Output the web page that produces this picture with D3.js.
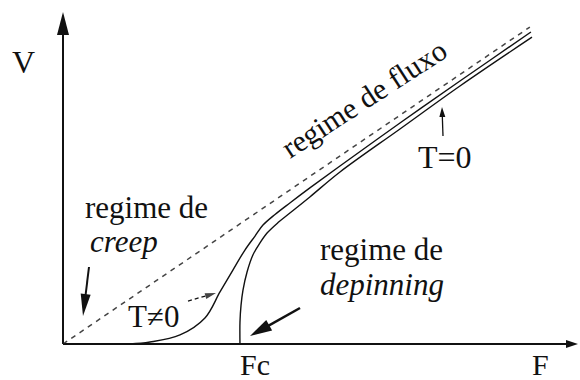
<!DOCTYPE html>
<html>
<head>
<meta charset="utf-8">
<script src="https://cdn.jsdelivr.net/npm/d3@7"></script>
<style>
    body { margin: 0; background: #fff; }
</style>
</head>
<body>
<div id="chart"></div>
<script>

// force in units of Fc, velocity in same units
const flowLine = [[0, 0], [2.638, 1.791]];

const creepCurve = [
    [0, 0], [0.379, 0], [0.492, 0.011], [0.661, 0.051], [0.802, 0.147],
    [0.887, 0.294], [0.960, 0.418], [1.028, 0.531], [1.085, 0.610],
    [1.130, 0.672], [1.198, 0.732], [1.282, 0.797], [1.395, 0.882],
    [1.565, 1.006], [1.904, 1.249], [2.243, 1.486], [2.644, 1.763]
];

const depinCurve = [
    [1.000, 0], [1.000, 0.124], [1.006, 0.220], [1.017, 0.305], [1.040, 0.407],
    [1.073, 0.503], [1.113, 0.571], [1.153, 0.627], [1.215, 0.686],
    [1.282, 0.740], [1.395, 0.831], [1.565, 0.972], [1.904, 1.215],
    [2.243, 1.458], [2.650, 1.734]
];

const axisLabels = ["F", "V"];
const tickLabels = ["Fc"];
const tickValues = [1];

const serif = "'Liberation Serif', 'Times New Roman', Times, 'DejaVu Serif', serif";

let width = 580, height = 380;

let svg = d3.select("#chart").append("svg")
    .attr("width", width)
    .attr("height", height)
    .attr("font-family", serif)
    .style("font-family", serif);

let x = d3.scaleLinear().domain([0, 2.91]).range([63, 578]);
let y = d3.scaleLinear().domain([0, 1.876]).range([344, 12]);

// filled arrow head, tip at (tx,ty), coming from (fx,fy)
function arrowHead(g, fx, fy, tx, ty, len, half, fill) {
    let a = Math.atan2(ty - fy, tx - fx);
    let bx = tx - len * Math.cos(a), by = ty - len * Math.sin(a);
    let px = -Math.sin(a) * half, py = Math.cos(a) * half;
    g.append("path")
        .attr("d", `M${tx},${ty}L${bx + px},${by + py}L${bx - px},${by - py}Z`)
        .attr("fill", fill || "#111");
}

function arrow(g, fx, fy, tx, ty, len, half, w, dash) {
    let a = Math.atan2(ty - fy, tx - fx);
    g.append("line")
        .attr("x1", fx).attr("y1", fy)
        .attr("x2", tx - len * 0.6 * Math.cos(a)).attr("y2", ty - len * 0.6 * Math.sin(a))
        .attr("stroke", "#111")
        .attr("stroke-width", w)
        .attr("stroke-dasharray", dash || null);
    arrowHead(g, fx, fy, tx, ty, len, half, dash ? "#444" : "#111");
}

function label(g, tx, ty, size, str, italic) {
    return g.append("text")
        .attr("x", tx).attr("y", ty)
        .attr("font-size", size)
        .attr("font-family", serif)
        .attr("font-style", italic ? "italic" : null)
        .attr("fill", "#111")
        .text(str);
}

// axes
let axes = svg.append("g");
axes.append("line")
    .attr("x1", x(0)).attr("y1", y(0)).attr("x2", x(2.91) - 6).attr("y2", y(0))
    .attr("stroke", "#111").attr("stroke-width", 2);
axes.append("line")
    .attr("x1", x(0)).attr("y1", y(0)).attr("x2", x(0)).attr("y2", y(1.876) + 10)
    .attr("stroke", "#111").attr("stroke-width", 2);
arrowHead(axes, x(0), y(0), x(2.91), y(0), 12, 4);
arrowHead(axes, x(0), y(0), x(0), y(1.876), 23, 6);

// flow regime (dashed)
let line = d3.line().x(d => x(d[0])).y(d => y(d[1]));

svg.append("path")
    .attr("d", line(flowLine))
    .attr("fill", "none")
    .attr("stroke", "#444")
    .attr("stroke-width", 1.5)
    .attr("stroke-dasharray", "5,5");

let smooth = d3.line().x(d => x(d[0])).y(d => y(d[1])).curve(d3.curveCatmullRom.alpha(0.5));

svg.append("path")
    .attr("d", smooth(creepCurve))
    .attr("fill", "none")
    .attr("stroke", "#111")
    .attr("stroke-width", 1.4);

svg.append("path")
    .attr("d", smooth(depinCurve))
    .attr("fill", "none")
    .attr("stroke", "#111")
    .attr("stroke-width", 1.4);

// axis labels
label(svg, 12, 73, 32, axisLabels[1]);
label(svg, 532, 375, 30, axisLabels[0]);
svg.selectAll(".tick-label")
    .data(tickValues)
    .join("text")
    .attr("class", "tick-label")
    .attr("x", d => x(d))
    .attr("y", 375)
    .attr("font-size", 30)
    .attr("font-family", serif)
    .attr("fill", "#111")
    .text((d, i) => tickLabels[i]);

// annotations
let notes = svg.append("g");

label(notes, 0, 0, 30, "regime de fluxo")
    .attr("transform", "translate(290,159) rotate(-33)");

label(notes, 418, 168, 32, "T=0");
arrow(notes, 443, 136, 442, 107, 10, 3, 1.3);

label(notes, 85, 218, 31, "regime de");
label(notes, 90, 252, 31, "creep", true);
arrow(notes, 89, 267, 83, 316, 22, 5, 2);

label(notes, 128, 327, 31, "T≠0");
arrow(notes, 188, 301, 216, 293, 11, 3, 1.3, "4,3");

label(notes, 320, 260, 31, "regime de");
label(notes, 320, 295, 31, "depinning", true);
arrow(notes, 300, 308, 250, 336, 22, 6, 2.5);

</script>
</body>
</html>
